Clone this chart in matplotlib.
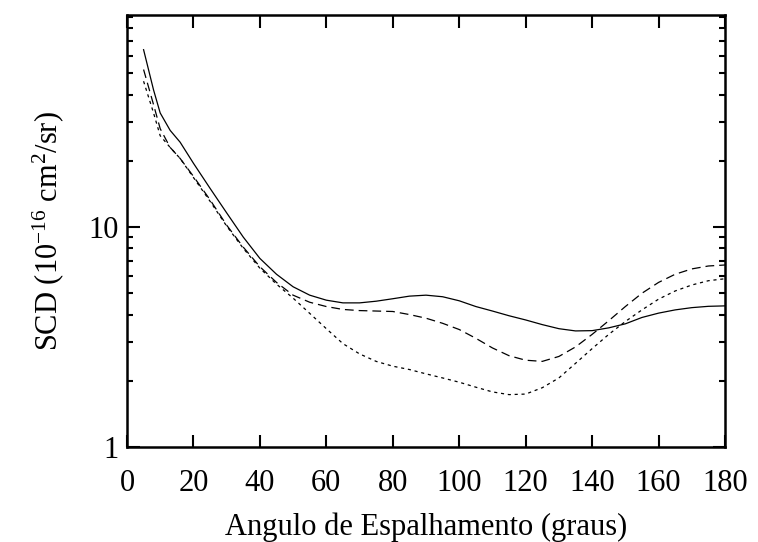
import matplotlib
matplotlib.use("Agg")
import matplotlib.pyplot as plt
from matplotlib.ticker import LogLocator, NullFormatter, FixedLocator

plt.rcParams['font.family'] = ['Liberation Serif', 'DejaVu Serif']
plt.rcParams['mathtext.fontset'] = 'custom'
plt.rcParams['mathtext.rm'] = 'Liberation Serif'
plt.rcParams['mathtext.it'] = 'Liberation Serif:italic'

# scattering angle (degrees)
angulo = [5, 8, 10, 13, 16, 20, 25, 30, 35, 40, 45, 50, 55, 60, 65, 70, 75,
          80, 85, 90, 95, 100, 105, 110, 115, 120, 125, 130, 135, 140, 145,
          150, 155, 160, 165, 170, 175, 180]

# SCD curves (10^-16 cm^2/sr)
scd_solida = [64, 42, 33, 27.5, 24.3, 19.5, 15.0, 11.6, 9.0, 7.2, 6.1, 5.35,
              4.9, 4.65, 4.52, 4.52, 4.6, 4.72, 4.85, 4.9, 4.82, 4.62, 4.35,
              4.15, 3.95, 3.78, 3.6, 3.45, 3.37, 3.38, 3.48, 3.63, 3.88, 4.06,
              4.2, 4.3, 4.36, 4.38]
scd_tracejada = [52, 36, 28, 23, 20.5, 17, 13.3, 10.2, 8.1, 6.6, 5.6, 4.9,
                 4.55, 4.35, 4.22, 4.17, 4.15, 4.13, 4.0, 3.85, 3.65, 3.42,
                 3.12, 2.82, 2.6, 2.48, 2.45, 2.58, 2.85, 3.25, 3.75, 4.35,
                 5.0, 5.6, 6.1, 6.45, 6.65, 6.72]
scd_pontilhada = [46, 33, 26, 23, 20.5, 16.8, 13.1, 10.1, 8.0, 6.5, 5.5, 4.75,
                  4.05, 3.45, 2.95, 2.65, 2.45, 2.33, 2.25, 2.15, 2.06, 1.97,
                  1.87, 1.78, 1.73, 1.74, 1.86, 2.06, 2.4, 2.8, 3.25, 3.72,
                  4.2, 4.7, 5.12, 5.45, 5.7, 5.82]

xticks = [0, 20, 40, 60, 80, 100, 120, 140, 160, 180]

fig = plt.figure(figsize=(7.58, 5.42), dpi=100)
ax = fig.add_axes([0.1675, 0.1753, 0.789, 0.797])

ax.plot(angulo, scd_solida, color='black', lw=0.9, ls='-')
ax.plot(angulo, scd_tracejada, color='black', lw=0.9, ls=(0, (7, 4)))
ax.plot(angulo, scd_pontilhada, color='black', lw=0.9, ls=(0, (2.5, 3)))

ax.set_yscale('log')
ax.set_xlim(0, 180)
ax.set_ylim(1, 92)
ax.xaxis.set_major_locator(FixedLocator(xticks))
ax.yaxis.set_minor_locator(LogLocator(base=10, subs=range(2, 10)))
ax.yaxis.set_minor_formatter(NullFormatter())
ax.set_yticks([1, 10])
ax.set_yticklabels(['1', '10'])

ax.tick_params(which='major', direction='in', length=9, width=1.5,
               top=True, right=True, labelsize=22)
ax.tick_params(axis='x', which='major', pad=16)
ax.tick_params(axis='y', which='major', pad=6)
ax.tick_params(which='minor', direction='in', length=4.5, width=1.5,
               top=True, right=True)
for s in ax.spines.values():
    s.set_linewidth(1.8)

ax.set_xlabel('Angulo de Espalhamento (graus)', fontsize=22, labelpad=10)
ax.set_ylabel('SCD (10$^{-16}$ cm$^{2}$/sr)', fontsize=22, labelpad=16)

fig.savefig('out.png', dpi=100)
